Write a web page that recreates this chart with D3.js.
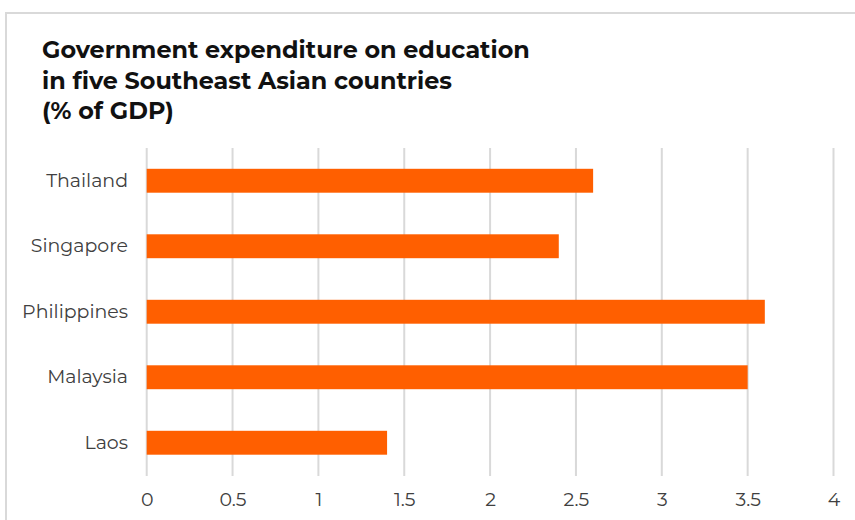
<!DOCTYPE html>
<html><head><meta charset="utf-8">
<script src="https://cdn.jsdelivr.net/npm/d3@7"></script>
<style>body{margin:0;background:#fff}svg{display:block}</style>
</head><body><svg id="c" width="855" height="520"></svg>
<script>
const categories = ["Thailand", "Singapore", "Philippines", "Malaysia", "Laos"];
const values = [2.6, 2.4, 3.6, 3.5, 1.4];
const tickValues = [0, 0.5, 1, 1.5, 2, 2.5, 3, 3.5, 4];
const titleLines = ["Government expenditure on education", "in five Southeast Asian countries", "(% of GDP)"];

const svg = d3.select("#c");
// frame
svg.append("rect").attr("x", 6).attr("y", 13).attr("width", 870).attr("height", 530)
  .attr("fill", "#fff").attr("stroke", "#d9d9d9").attr("stroke-width", 2);

const x = d3.scaleLinear().domain([0, 4]).range([146.7, 833.5]);
const y = d3.scaleBand().domain(categories).range([148, 475.5]).paddingInner(0.635).paddingOuter(0.3175);

const font = "Montserrat, 'Open Sans', Lato, sans-serif";

// gridlines
svg.append("g").selectAll("line").data(tickValues).join("line")
  .attr("x1", d => x(d)).attr("x2", d => x(d)).attr("y1", 148).attr("y2", 476)
  .attr("stroke", "#d9d9d9").attr("stroke-width", 2);

// bars
svg.append("g").selectAll("rect").data(values).join("rect")
  .attr("x", x(0)).attr("y", (d, i) => y(categories[i]))
  .attr("width", d => x(d) - x(0)).attr("height", y.bandwidth())
  .attr("fill", "#ff5f00");

// y axis labels
const ya = d3.axisLeft(y).tickSize(0).tickPadding(0);
const gy = svg.append("g").attr("transform", "translate(128,0)").call(ya);
gy.select(".domain").remove();
gy.selectAll("text").attr("font-family", font).attr("font-size", 17).attr("fill", "#404040");
// fit label size so "Philippines" is ~106px wide
let pw = 0;
gy.selectAll("text").each(function(d){ if (d === "Philippines") pw = this.getComputedTextLength(); });
const lfs = pw ? 17 * 106 / pw : 17;
gy.selectAll("text").attr("font-size", lfs);

// x axis labels
const xa = d3.axisBottom(x).tickValues(tickValues).tickSize(0).tickPadding(0).tickFormat(d3.format("~g"));
const gx = svg.append("g").attr("transform", "translate(0,492)").call(xa);
gx.select(".domain").remove();
gx.selectAll("text").attr("font-family", font).attr("font-size", lfs).attr("fill", "#404040")
  .attr("dy", "0.72em");

// title
const baselines = [58, 89, 119];
const t = svg.append("g");
titleLines.forEach((line, i) => {
  t.append("text").attr("x", 42).attr("y", baselines[i]).text(line)
    .attr("font-family", font).attr("font-weight", "bold").attr("font-size", 23).attr("fill", "#111");
});
const first = t.select("text").node();
const w = first.getComputedTextLength();
t.selectAll("text").attr("font-size", 23 * 488 / w);
</script></body></html>
